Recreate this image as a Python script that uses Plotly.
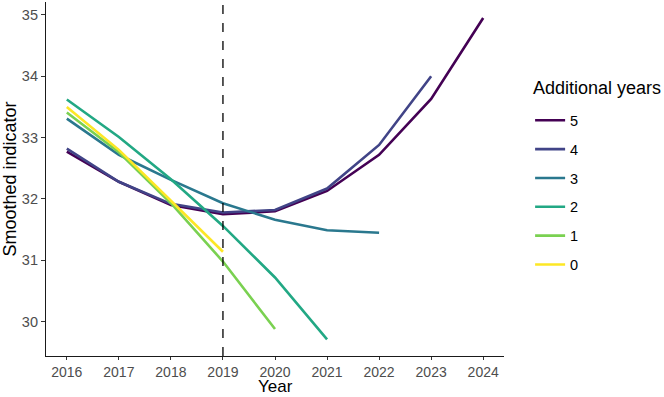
import plotly.graph_objects as go

years = [2016, 2017, 2018, 2019, 2020, 2021, 2022, 2023, 2024]
series_names = ["5", "4", "3", "2", "1", "0"]
s5 = [32.77, 32.28, 31.90, 31.75, 31.80, 32.13, 32.72, 33.63, 34.95]
s4 = [32.82, 32.28, 31.92, 31.78, 31.82, 32.17, 32.88, 34.00]
s3 = [33.31, 32.72, 32.31, 31.93, 31.66, 31.49, 31.45]
s2 = [33.62, 33.01, 32.32, 31.56, 30.72, 29.71]
s1 = [33.41, 32.76, 31.93, 30.98, 29.88]
s0 = [33.50, 32.80, 31.97, 31.14]
values = [s5, s4, s3, s2, s1, s0]
colors = ["#440154", "#414487", "#2A788E", "#22A884", "#7AD151", "#FDE725"]
x_ticks = [2016, 2017, 2018, 2019, 2020, 2021, 2022, 2023, 2024]
y_ticks = [30, 31, 32, 33, 34, 35]
cutoff_year = 2019
legend_title = "Additional years"
x_title = "Year"
y_title = "Smoothed indicator"

fig = go.Figure()
for name, vals, col in zip(series_names, values, colors):
    fig.add_trace(go.Scatter(
        x=years[:len(vals)], y=vals, mode="lines", name=name,
        line=dict(color=col, width=2.6), legendgroup=name,
    ))

fig.add_vline(x=cutoff_year, line=dict(color="black", width=1.3, dash="dash"))

fig.add_annotation(
    text=legend_title, xref="paper", yref="paper", x=1.059, y=0.757,
    xanchor="left", yanchor="middle", showarrow=False,
    font=dict(size=18, color="black"),
)
fig.add_annotation(
    text=x_title, xref="paper", yref="paper", x=0.5, y=-0.1158,
    xanchor="center", yanchor="bottom", showarrow=False, borderpad=0,
    font=dict(size=17, color="black"),
)

fig.update_layout(
    width=664, height=397,
    margin=dict(l=46, r=160, t=2, b=41),
    plot_bgcolor="white", paper_bgcolor="white",
    font=dict(family="Arial, Liberation Sans, sans-serif", color="#4D4D4D", size=14),
    legend=dict(
        x=1.057, xanchor="left", y=0.711, yanchor="top",
        font=dict(size=14.5, color="black"),
        tracegroupgap=7, itemwidth=30,
        bgcolor="rgba(0,0,0,0)",
    ),
    showlegend=True,
)
fig.update_xaxes(
    range=[2015.6, 2024.4], tickvals=x_ticks, ticktext=[str(v) for v in x_ticks],
    showgrid=False, zeroline=False, showline=True, linecolor="#1a1a1a", linewidth=1.2,
    ticks="outside", ticklen=3, tickcolor="#333333", tickwidth=1,
    tickfont=dict(size=14, color="#4D4D4D"), automargin=False,
)
fig.update_yaxes(
    range=[29.44, 35.21], tickvals=y_ticks, ticktext=[str(v) for v in y_ticks],
    showgrid=False, zeroline=False, showline=True, linecolor="#1a1a1a", linewidth=1.2,
    ticks="outside", ticklen=4, tickcolor="#333333", tickwidth=1,
    title=dict(text=y_title, font=dict(size=18, color="black"), standoff=4),
    tickfont=dict(size=14.5, color="#4D4D4D"), automargin=False,
)

fig.write_html("out.html")
